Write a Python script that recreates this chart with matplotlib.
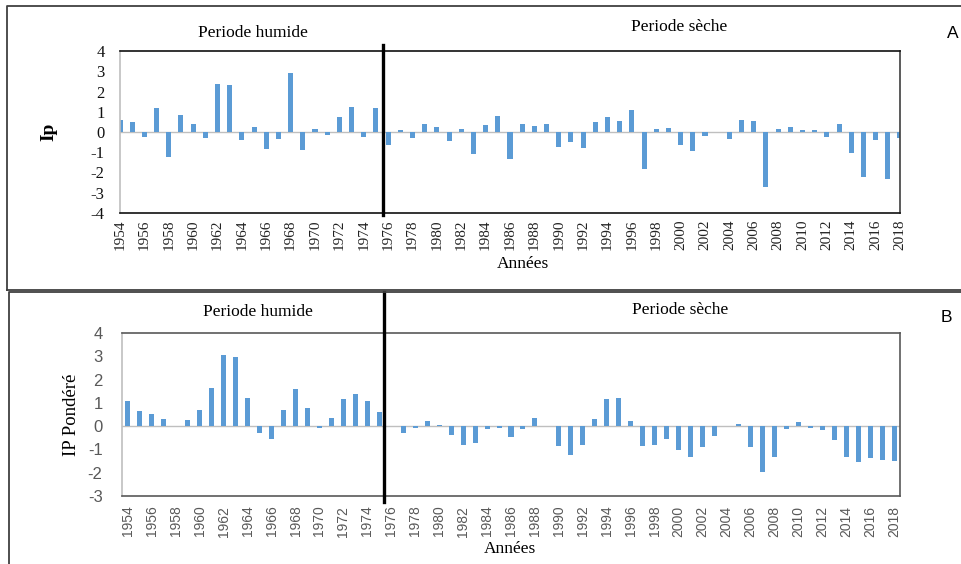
import numpy as np
import matplotlib
matplotlib.use('Agg')
import matplotlib.pyplot as plt
from matplotlib.lines import Line2D

# données
years = list(range(1954, 2019))

ip = [0.57, 0.48, -0.25, 1.18, -1.23, 0.85, 0.41, -0.30, 2.39, 2.33,
      -0.41, 0.26, -0.84, -0.34, 2.93, -0.90, 0.15, -0.13, 0.74, 1.25,
      -0.25, 1.18, -0.62, 0.11, -0.30, 0.41, 0.25, -0.46, 0.15, -1.11,
      0.36, 0.80, -1.33, 0.41, 0.31, 0.41, -0.74, -0.51, -0.79, 0.48,
      0.74, 0.54, 1.08, -1.82, 0.15, 0.20, -0.62, -0.95, -0.18, 0.0,
      -0.34, 0.57, 0.52, -2.74, 0.13, 0.25, 0.10, 0.10, -0.25, 0.41,
      -1.05, -2.20, -0.39, -2.31, -0.30]

ip_pondere = [1.07, 0.64, 0.54, 0.30, 0.0, 0.26, 0.69, 1.63, 3.07, 2.97,
              1.21, -0.31, -0.54, 0.69, 1.59, 0.77, -0.07, 0.36, 1.16, 1.40,
              1.07, 0.59, 0.0, -0.31, -0.07, 0.21, 0.07, -0.36, -0.79, -0.74,
              -0.13, -0.07, -0.46, -0.11, 0.36, 0.0, -0.84, -1.26, -0.79, 0.30,
              1.16, 1.21, 0.21, -0.84, -0.79, -0.54, -1.03, -1.31, -0.89, -0.41,
              0.0, 0.10, -0.89, -1.99, -1.31, -0.13, 0.16, -0.07, -0.17, -0.60,
              -1.31, -1.56, -1.36, -1.46, -1.51]

tick_years = years[::2]
bar_color = '#5B9BD5'
serif = 'Liberation Serif'
sans = 'Liberation Sans'

W, H = 962, 564
fig = plt.figure(figsize=(W / 100, H / 100), dpi=100)

def fx(px):
        return px / W

def fy(py):
        return 1 - py / H

# cadres autour des deux graphiques
fig.add_artist(Line2D([fx(7), fx(7), fx(970), fx(970), fx(7)],
                      [fy(290), fy(6), fy(6), fy(290), fy(290)],
                      color='#404040', lw=1.3, transform=fig.transFigure))
fig.add_artist(Line2D([fx(9), fx(9), fx(970)], [fy(570), fy(292), fy(292)],
                      color='#404040', lw=1.3, transform=fig.transFigure))

# ---------- graphique A ----------
axA = fig.add_axes([fx(120), fy(213), fx(900) - fx(120), fy(51) - fy(213)])
axA.bar(years, ip, width=0.42, color=bar_color, zorder=2)
axA.axhline(0, color='#BFBFBF', lw=1, zorder=1)
axA.set_xlim(1954, 2018)
axA.set_ylim(-4, 4)
axA.set_yticks(range(-4, 5))
axA.set_xticks(tick_years)
axA.set_xticklabels([str(y) for y in tick_years], rotation=90,
                    fontfamily=serif, fontsize=11, color='#222222')
axA.set_yticklabels([str(v) for v in range(-4, 5)], fontfamily=serif,
                    fontsize=12, color='#111111')
axA.tick_params(length=0, pad=5)
axA.tick_params(axis='y', pad=11)
axA.spines['top'].set_color('#111111')
axA.spines['bottom'].set_color('#111111')
axA.spines['right'].set_color('#404040')
axA.spines['left'].set_color('#BFBFBF')
for s in axA.spines.values():
        s.set_linewidth(1.2)
axA.axvline(1975.55, ymin=-0.012, ymax=1.037, color='black', lw=2.4,
            clip_on=False, zorder=3)
axA.set_ylabel('Ip', fontfamily=serif, fontsize=14, fontweight='bold')
axA.yaxis.set_label_coords(-(120 - 57) / 780, 0.5)

fig.text(fx(253), fy(33), 'Periode humide', ha='center', va='center',
         fontfamily=serif, fontsize=12.5)
fig.text(fx(679), fy(27), 'Periode sèche', ha='center', va='center',
         fontfamily=serif, fontsize=12.5)
fig.text(fx(953), fy(33), 'A', ha='center', va='center',
         fontfamily=sans, fontsize=12.5)
fig.text(fx(523), fy(264), 'Années', ha='center', va='center',
         fontfamily=serif, fontsize=12.5)

# ---------- graphique B ----------
axB = fig.add_axes([fx(122), fy(496), fx(900) - fx(122), fy(333) - fy(496)])
axB.bar(years, ip_pondere, width=0.42, color=bar_color, zorder=2)
axB.axhline(0, color='#BFBFBF', lw=1, zorder=1)
axB.set_xlim(1953.5, 2018.5)
axB.set_ylim(-3, 4)
axB.set_yticks(range(-3, 5))
axB.set_xticks(tick_years)
axB.set_xticklabels([str(y) for y in tick_years], rotation=90,
                    fontfamily=sans, fontsize=10, color='#595959')
axB.set_yticklabels([str(v) for v in range(-3, 5)], fontfamily=sans,
                    fontsize=12, color='#595959')
axB.tick_params(length=0, pad=7)
axB.tick_params(axis='y', pad=14)
for name in ['top', 'bottom', 'right']:
        axB.spines[name].set_color('#595959')
axB.spines['left'].set_color('#BFBFBF')
for s in axB.spines.values():
        s.set_linewidth(1.2)
axB.axvline(1975.4, ymin=-0.037, ymax=1.25, color='black', lw=2.4,
            clip_on=False, zorder=3)
axB.set_ylabel('IP Pondéré', fontfamily=serif, fontsize=13.5)
axB.yaxis.set_label_coords(-(122 - 80) / 778, 0.5)

fig.text(fx(258), fy(312), 'Periode humide', ha='center', va='center',
         fontfamily=serif, fontsize=12.5)
fig.text(fx(680), fy(310), 'Periode sèche', ha='center', va='center',
         fontfamily=serif, fontsize=12.5)
fig.text(fx(946), fy(317), 'B', ha='center', va='center',
         fontfamily=sans, fontsize=12.5)
fig.text(fx(510), fy(549), 'Années', ha='center', va='center',
         fontfamily=serif, fontsize=12.5)

fig.savefig('out.png', dpi=100)
